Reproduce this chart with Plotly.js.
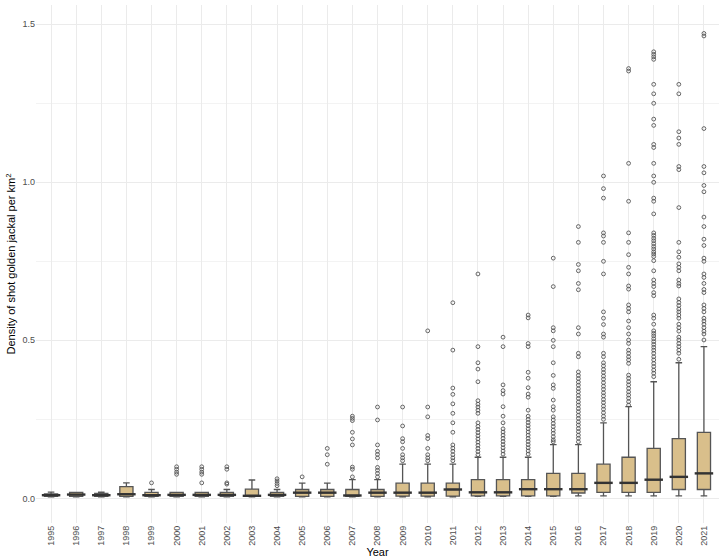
<!DOCTYPE html>
<html>
<head>
<meta charset="utf-8">
<script src="https://cdn.plot.ly/plotly-3.0.1.min.js"></script>
<style>
  html, body { margin: 0; padding: 0; background: #fff; }
  #chart { width: 720px; height: 558px; }
</style>
</head>
<body>
<div id="chart"></div>
<script>
// Shot golden jackal density per km² by year (box stats)
const years = ['1995','1996','1997','1998','1999','2000','2001','2002','2003','2004','2005','2006','2007','2008',
  '2009','2010','2011','2012','2013','2014','2015','2016','2017','2018','2019','2020','2021'];

const q1 = [0.006,0.006,0.006,0.006,0.006,0.006,0.006,0.006,0.006,0.006,0.006,0.006,0.006,0.006,
  0.007,0.007,0.007,0.008,0.008,0.008,0.008,0.017,0.019,0.019,0.019,0.028,0.028];
const median = [0.010,0.012,0.010,0.013,0.010,0.011,0.011,0.011,0.008,0.011,0.018,0.018,0.009,0.018,
  0.018,0.018,0.028,0.019,0.019,0.029,0.029,0.029,0.049,0.049,0.059,0.068,0.079];
const q3 = [0.014,0.019,0.016,0.037,0.019,0.019,0.019,0.019,0.029,0.019,0.028,0.028,0.028,0.028,
  0.048,0.048,0.048,0.059,0.059,0.059,0.079,0.079,0.108,0.130,0.158,0.189,0.209];
const lowerFence = [0.005,0.005,0.005,0.005,0.005,0.005,0.005,0.005,0.005,0.005,0.005,0.005,0.005,0.005,
  0.005,0.005,0.005,0.006,0.006,0.006,0.006,0.008,0.008,0.008,0.008,0.008,0.008];
const upperFence = [0.020,0.019,0.020,0.049,0.028,0.019,0.019,0.028,0.058,0.028,0.048,0.048,0.059,0.059,
  0.108,0.108,0.108,0.130,0.130,0.130,0.170,0.170,0.239,0.290,0.369,0.429,0.480];

// outliers per year, same order as years
const outliers = [
  [],
  [],
  [],
  [],
  [0.049],
  [0.076,0.083,0.092,0.100],
  [0.049,0.076,0.083,0.092,0.100],
  [0.045,0.049,0.092,0.100],
  [],
  [0.040,0.047,0.055,0.062],
  [0.068],
  [0.108,0.138,0.158],
  [0.068,0.092,0.099,0.169,0.188,0.209,0.246,0.253,0.260],
  [0.068,0.079,0.089,0.098,0.128,0.139,0.149,0.169,0.248,0.289],
  [0.119,0.128,0.138,0.158,0.179,0.189,0.229,0.289],
  [0.119,0.128,0.138,0.158,0.189,0.199,0.258,0.289,0.530],
  [0.119,0.128,0.138,0.149,0.159,0.169,0.209,0.239,0.269,0.299,0.329,0.349,0.469,0.619],
  [0.138,0.148,0.158,0.168,0.178,0.188,0.198,0.208,0.218,0.228,0.239,0.269,0.279,0.289,0.298,0.309,
   0.369,0.409,0.429,0.480,0.710],
  [0.140,0.150,0.160,0.170,0.180,0.190,0.200,0.210,0.220,0.239,0.260,0.290,0.330,0.341,0.359,0.480,0.510],
  [0.140,0.150,0.160,0.170,0.180,0.190,0.200,0.210,0.220,0.230,0.240,0.250,0.260,0.279,0.320,0.330,
   0.350,0.380,0.399,0.480,0.490,0.571,0.580],
  [0.179,0.185,0.195,0.206,0.216,0.227,0.237,0.248,0.258,0.279,0.290,0.311,0.348,0.359,0.389,0.429,
   0.480,0.500,0.530,0.540,0.670,0.760],
  [0.179,0.190,0.200,0.211,0.221,0.232,0.242,0.253,0.263,0.274,0.284,0.295,0.305,0.316,0.326,0.337,
   0.347,0.358,0.368,0.379,0.389,0.400,0.448,0.459,0.520,0.540,0.660,0.680,0.720,0.740,0.810,0.860],
  [0.250,0.260,0.271,0.282,0.292,0.303,0.313,0.324,0.334,0.345,0.355,0.366,0.377,0.387,0.398,0.408,
   0.419,0.429,0.448,0.459,0.510,0.520,0.550,0.570,0.590,0.710,0.750,0.810,0.830,0.840,0.950,0.980,1.020],
  [0.295,0.306,0.317,0.327,0.337,0.348,0.359,0.369,0.380,0.390,0.427,0.438,0.448,0.459,0.469,0.490,
   0.501,0.520,0.540,0.561,0.590,0.601,0.612,0.662,0.672,0.710,0.731,0.771,0.810,0.840,0.940,1.060,
   1.352,1.360],
  [0.385,0.396,0.406,0.417,0.427,0.438,0.448,0.459,0.469,0.478,0.487,0.496,0.505,0.514,0.522,0.530,
   0.551,0.570,0.580,0.641,0.651,0.670,0.680,0.691,0.720,0.752,0.765,0.773,0.780,0.789,0.797,0.806,
   0.815,0.823,0.832,0.840,0.900,0.940,0.950,1.000,1.020,1.060,1.110,1.120,1.180,1.200,1.250,1.280,
   1.310,1.389,1.397,1.405,1.413],
  [0.440,0.459,0.469,0.480,0.490,0.501,0.510,0.529,0.540,0.551,0.570,0.580,0.590,0.599,0.610,0.620,
   0.631,0.672,0.680,0.691,0.720,0.731,0.742,0.763,0.780,0.810,0.920,1.040,1.050,1.120,1.140,1.160,
   1.280,1.310],
  [0.501,0.520,0.529,0.540,0.551,0.561,0.570,0.590,0.601,0.612,0.651,0.661,0.680,0.699,0.710,0.750,
   0.760,0.800,0.820,0.860,0.890,0.970,0.990,1.030,1.050,1.170,1.463,1.471]
];

const outX = [];
const outY = [];
outliers.forEach(function(list, i) {
  list.forEach(function(v) {
    outX.push(years[i]);
    outY.push(v);
  });
});

const boxTrace = {
  type: 'box',
  x: years,
  q1: q1,
  median: median,
  q3: q3,
  lowerfence: lowerFence,
  upperfence: upperFence,
  boxpoints: false,
  fillcolor: '#d9bf8b',
  line: { color: '#555555', width: 1.3 },
  whiskerwidth: 0.5,
  hoverinfo: 'skip',
  showlegend: false
};

// thicker median bars, as in the original (line-ew length is 1.4 x size)
const medianTrace = {
  type: 'scatter',
  mode: 'markers',
  x: years,
  y: median,
  marker: { symbol: 'line-ew', size: 13.2, line: { color: '#333333', width: 2.4 } },
  hoverinfo: 'skip',
  showlegend: false
};

const outlierTrace = {
  type: 'scatter',
  mode: 'markers',
  x: outX,
  y: outY,
  marker: { symbol: 'circle-open', size: 3.8, color: '#555555', line: { width: 0.9 } },
  hoverinfo: 'skip',
  showlegend: false
};

const layout = {
  width: 720,
  height: 558,
  margin: { l: 36, r: 1, t: 5, b: 35 },
  paper_bgcolor: '#ffffff',
  plot_bgcolor: '#ffffff',
  font: { family: 'Liberation Sans, Arial, sans-serif', color: '#000000' },
  boxgap: 0.25,
  xaxis: {
    type: 'category',
    range: [-0.6, 26.6],
    tickangle: -90,
    tickfont: { size: 9, color: '#4d4d4d' },
    showgrid: true,
    gridcolor: '#ebebeb',
    gridwidth: 1,
    zeroline: false,
    showline: false,
    ticks: '',
    automargin: false,
    title: { text: 'Year', font: { size: 11 }, standoff: 2 }
  },
  yaxis: {
    range: [-0.078, 1.561],
    tickvals: [0, 0.5, 1, 1.5],
    ticktext: ['0.0', '0.5', '1.0', '1.5'],
    tickfont: { size: 9, color: '#4d4d4d' },
    showgrid: true,
    gridcolor: '#ebebeb',
    gridwidth: 1,
    minor: { tickvals: [0.25, 0.75, 1.25], showgrid: true, gridcolor: '#f3f3f3', gridwidth: 1 },
    zeroline: false,
    showline: false,
    ticks: '',
    automargin: false,
    title: { text: 'Density of shot golden jackal per km<sup>2</sup>', font: { size: 11 }, standoff: 4 }
  }
};

Plotly.newPlot('chart', [boxTrace, medianTrace, outlierTrace], layout, { staticPlot: true });
</script>
</body>
</html>
